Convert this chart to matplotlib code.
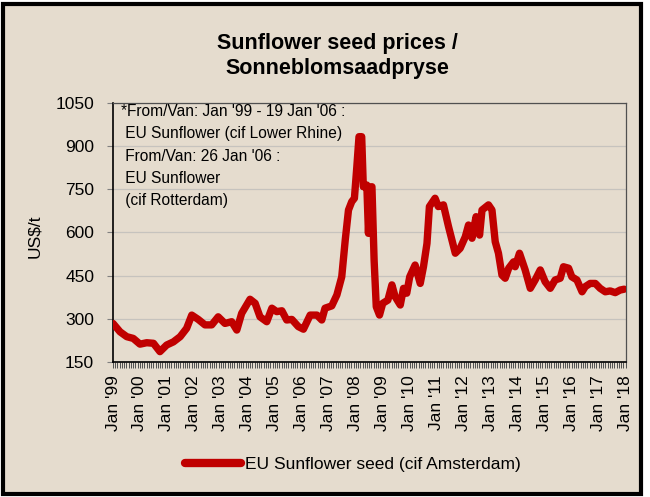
import matplotlib
matplotlib.use('Agg')
import matplotlib.pyplot as plt
from matplotlib.patches import Rectangle
from matplotlib.ticker import MultipleLocator
from matplotlib.lines import Line2D
from matplotlib import font_manager

# ---- data (decimal year, US$/t) ----
years = [1999.00, 1999.26, 1999.51, 1999.75, 2000.00, 2000.25, 2000.50, 2000.74,
         2000.99, 2001.24, 2001.49, 2001.73, 2001.92, 2002.16, 2002.41, 2002.66,
         2002.90, 2003.15, 2003.40, 2003.59, 2003.77, 2004.08, 2004.27, 2004.45,
         2004.70, 2004.89, 2005.07, 2005.26, 2005.44, 2005.63, 2005.87, 2006.06,
         2006.31, 2006.56, 2006.74, 2006.86, 2007.11, 2007.30, 2007.48, 2007.61,
         2007.73, 2007.85, 2007.95, 2008.04, 2008.12, 2008.22, 2008.28, 2008.41,
         2008.47, 2008.53, 2008.60, 2008.68, 2008.76, 2008.88, 2009.00, 2009.19,
         2009.34, 2009.46, 2009.65, 2009.77, 2009.89, 2010.00, 2010.20, 2010.39,
         2010.51, 2010.64, 2010.73, 2010.94, 2011.06, 2011.25, 2011.44, 2011.69,
         2011.87, 2012.06, 2012.18, 2012.31, 2012.46, 2012.59, 2012.68, 2012.92,
         2013.05, 2013.17, 2013.29, 2013.42, 2013.54, 2013.67, 2013.85, 2013.91,
         2014.07, 2014.28, 2014.47, 2014.65, 2014.84, 2015.02, 2015.21, 2015.39,
         2015.58, 2015.70, 2015.89, 2016.01, 2016.20, 2016.39, 2016.51, 2016.69,
         2016.88, 2017.06, 2017.25, 2017.43, 2017.62, 2017.80, 2017.95]
prices = [284, 255, 238, 232, 212, 217, 215, 186,
          209, 220, 238, 267, 313, 298, 279, 279,
          307, 284, 290, 261, 319, 368, 354, 307,
          290, 337, 325, 328, 296, 298, 273, 264,
          313, 313, 296, 337, 345, 383, 446, 574,
          678, 707, 719, 829, 933, 933, 759, 765,
          597, 758, 759, 504, 342, 313, 354, 365,
          418, 377, 348, 406, 389, 446, 487, 423,
          481, 562, 690, 719, 690, 696, 620, 528,
          545, 585, 626, 580, 655, 591, 678, 696,
          678, 568, 528, 452, 441, 476, 498, 481,
          528, 470, 406, 435, 470, 429, 406, 435,
          441, 481, 476, 446, 435, 394, 412, 423,
          423, 406, 394, 397, 391, 400, 403]

tick_years = list(range(1999, 2019))
tick_labels = ["Jan '%02d" % (y % 100) for y in tick_years]
y_ticks = [150, 300, 450, 600, 750, 900, 1050]

series_label = "EU Sunflower seed (cif Amsterdam)"
note = ("*From/Van: Jan '99 - 19 Jan '06 :\n EU Sunflower (cif Lower Rhine)\n"
        " From/Van: 26 Jan '06 :\n EU Sunflower\n (cif Rotterdam)")

FONT = 'Liberation Sans'
plt.rcParams['font.family'] = [FONT, 'DejaVu Sans']
installed = {f.name for f in font_manager.fontManager.ttflist}
HAS_NARROW = 'Liberation Sans Narrow' in installed
NOTE_FONT = 'Liberation Sans Narrow' if HAS_NARROW else FONT
NOTE_SIZE = 13 if HAS_NARROW else 11.2

BG = '#E5DCCE'
RED = '#C00000'
W, H = 650, 497

fig = plt.figure(figsize=(6.5, 4.97), dpi=100, facecolor='white')
fig.patches.append(Rectangle((3 / W, 3 / H), 638 / W, 490 / H, transform=fig.transFigure,
                             facecolor=BG, edgecolor='black', linewidth=3, zorder=-10))

ax = fig.add_axes([113 / W, 135 / H, 512.5 / W, 259 / H])
ax.set_facecolor('none')

ax.plot(years, prices, color=RED, linewidth=5.3, solid_joinstyle='round',
        solid_capstyle='round', zorder=3)

ax.set_xlim(1999, 2018)
ax.set_ylim(150, 1050)
ax.set_yticks(y_ticks)
ax.set_yticklabels([str(v) for v in y_ticks], fontsize=12.5)
ax.set_xticks(tick_years)
ax.set_xticklabels(tick_labels, rotation=90, fontsize=12.5)
ax.xaxis.set_minor_locator(MultipleLocator(1 / 12))

ax.grid(axis='y', color='#C6C3BE', linewidth=0.9, zorder=0)
ax.tick_params(axis='y', length=4.5, width=0.8, color='#808080', pad=9, direction='out')
ax.tick_params(axis='x', which='both', length=4.5, width=0.7, color='#505050',
               pad=5, direction='out')

for s in ['left', 'bottom']:
    ax.spines[s].set_color('black')
    ax.spines[s].set_linewidth(1.2)
for s in ['top', 'right']:
    ax.spines[s].set_color('#505050')
    ax.spines[s].set_linewidth(0.9)

ax.text(0.016, 0.995, note, transform=ax.transAxes, ha='left', va='top',
        fontsize=NOTE_SIZE, family=[NOTE_FONT, 'DejaVu Sans'],
        linespacing=1.15 if HAS_NARROW else 1.6, zorder=4)

fig.text(0.519, 1 - 56 / H, "Sunflower seed prices /\nSonneblomsaadpryse",
         ha='center', va='center', fontsize=15.5, fontweight='bold', linespacing=1.2)

fig.text(35 / W, 1 - 236 / H, "US$/t", rotation=90, ha='center', va='center',
         fontsize=12.5)

handle = Line2D([], [], color=RED, linewidth=6, solid_capstyle='round')
fig.legend([handle], [series_label], loc='center left',
           bbox_to_anchor=(185 / W, 1 - 464 / H), frameon=False, fontsize=12.5,
           handlelength=3.2, handletextpad=0.25, borderpad=0, borderaxespad=0)

fig.savefig('out.png', dpi=100, facecolor='white')
